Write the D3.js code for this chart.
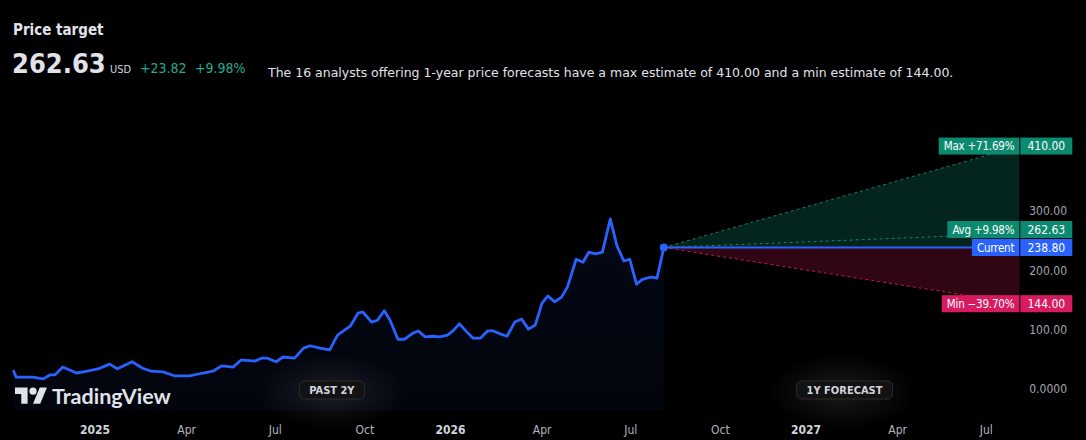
<!DOCTYPE html>
<html>
<head>
<meta charset="utf-8">
<script src="https://cdn.jsdelivr.net/npm/d3@7"></script>
<style>
  html, body { margin: 0; padding: 0; background: #000; }
  svg { display: block; font-family: "DejaVu Sans Condensed", "DejaVu Sans", sans-serif; }
</style>
</head>
<body>
<div id="chart"></div>
<script>
var priceDates = [
    "2024-10-09", "2024-10-12", "2024-10-29", "2024-11-09", "2024-11-16", "2024-11-21", "2024-11-29",
    "2024-12-06", "2024-12-13", "2024-12-20", "2024-12-29", "2025-01-06", "2025-01-16", "2025-01-24",
    "2025-02-08", "2025-02-19", "2025-02-28", "2025-03-12", "2025-03-24", "2025-04-08", "2025-04-22",
    "2025-05-02", "2025-05-11", "2025-05-23", "2025-05-31", "2025-06-14", "2025-06-21", "2025-06-27",
    "2025-07-06", "2025-07-13", "2025-07-25", "2025-08-03", "2025-08-10", "2025-08-20", "2025-08-30",
    "2025-09-07", "2025-09-20", "2025-09-28", "2025-10-03", "2025-10-12", "2025-10-18", "2025-10-25",
    "2025-10-31", "2025-11-08", "2025-11-15", "2025-11-23", "2025-11-29", "2025-12-06", "2025-12-14",
    "2025-12-21", "2025-12-29", "2026-01-04", "2026-01-10", "2026-01-18", "2026-01-24", "2026-02-01",
    "2026-02-08", "2026-02-14", "2026-02-21", "2026-02-28", "2026-03-08", "2026-03-15", "2026-03-22",
    "2026-03-29", "2026-04-05", "2026-04-11", "2026-04-18", "2026-04-25", "2026-05-01", "2026-05-10",
    "2026-05-17", "2026-05-23", "2026-05-30", "2026-06-06", "2026-06-14", "2026-06-21", "2026-06-28",
    "2026-07-04", "2026-07-11", "2026-07-17", "2026-07-26", "2026-08-01", "2026-08-08"
];
var priceValues = [
    32, 20, 20, 17, 24, 24, 37,
    32, 27, 29, 32, 35, 42, 34,
    46, 35, 30, 29, 22, 22, 27,
    30, 39, 37, 49, 47, 52, 52,
    46, 54, 52, 69, 73, 69, 66,
    91, 106, 128, 130, 113, 116, 132,
    116, 84, 84, 94, 98, 88, 89,
    88, 91, 99, 110, 96, 86, 86,
    98, 98, 93, 89, 113, 118, 101,
    108, 145, 157, 147, 155, 172, 219,
    214, 231, 228, 231, 287, 241, 216,
    219, 177, 185, 189, 187, 238.8
];

var forecastEndDate = "2027-08-08";
var currentPrice = 238.80;
var targetNames = ["Max", "Avg", "Min"];
var targetValues = [410.00, 262.63, 144.00];
var targetPercents = ["+71.69%", "+9.98%", "\u221239.70%"];
var avgChange = "+23.82";

// 400.00 sits under the 410.00 box in the reference, so it is left out
var yTickValues = [0, 100, 200, 300];
var yTickLabels = ["0.0000", "100.00", "200.00", "300.00"];
var xTickDates = ["2025-01-01", "2025-04-01", "2025-07-01", "2025-10-01", "2026-01-01", "2026-04-01",
    "2026-07-01", "2026-10-01", "2027-01-01", "2027-04-01", "2027-07-01"];
var xTickLabels = ["2025", "Apr", "Jul", "Oct", "2026", "Apr", "Jul", "Oct", "2027", "Apr", "Jul"];

var width = 1086, height = 440;
var lineBlue = "#2962ff";
var green = "#0b8a70";
var pink = "#d81b60";

var svg = d3.select("#chart").append("svg")
    .attr("width", width)
    .attr("height", height);

svg.append("rect").attr("width", width).attr("height", height).attr("fill", "#000");

var defs = svg.append("defs");
var areaGrad = defs.append("linearGradient")
    .attr("id", "areaGrad").attr("x1", 0).attr("y1", 0).attr("x2", 0).attr("y2", 1);
areaGrad.append("stop").attr("offset", "0%").attr("stop-color", lineBlue).attr("stop-opacity", 0.08);
areaGrad.append("stop").attr("offset", "100%").attr("stop-color", lineBlue).attr("stop-opacity", 0.05);

var glow = defs.append("radialGradient").attr("id", "glow");
glow.append("stop").attr("offset", "0%").attr("stop-color", "#fff").attr("stop-opacity", 0.1);
glow.append("stop").attr("offset", "100%").attr("stop-color", "#fff").attr("stop-opacity", 0);

var parse = d3.utcParse("%Y-%m-%d");
var dataset = priceDates.map(function (d, i) {
    return { date: parse(d), value: priceValues[i] };
});

var x = d3.scaleUtc()
    .domain([parse("2025-01-01"), parse("2027-01-01")])
    .range([95, 806]);

var y = d3.scaleLinear()
    .domain([0, 400])
    .range([389, 152]);

// header
svg.append("text").attr("x", 13).attr("y", 35)
    .attr("fill", "#e0e3eb").attr("font-size", 15).attr("font-weight", "bold")
    .text("Price target");
svg.append("text").attr("x", 12).attr("y", 73)
    .attr("fill", "#e0e3eb").attr("font-size", 27).attr("font-weight", "bold")
    .text(targetValues[1].toFixed(2));
svg.append("text").attr("x", 110).attr("y", 73)
    .attr("fill", "#d1d4dc").attr("font-size", 11)
    .text("USD");
svg.append("text").attr("x", 140).attr("y", 73)
    .attr("fill", "#22ab94").attr("font-size", 14)
    .text(avgChange);
svg.append("text").attr("x", 195).attr("y", 73)
    .attr("fill", "#22ab94").attr("font-size", 14)
    .text(targetPercents[1]);
svg.append("text").attr("x", 268).attr("y", 77)
    .attr("fill", "#e0e3eb").attr("font-size", 12.5)
    .attr("font-family", "'DejaVu Sans', sans-serif")
    .text("The 16 analysts offering 1-year price forecasts have a max estimate of " +
        targetValues[0].toFixed(2) + " and a min estimate of " + targetValues[2].toFixed(2) + ".");

// glow behind the period pills
var lastDate = dataset[dataset.length - 1].date;
var endDate = parse(forecastEndDate);
var pastMid = (0 + x(lastDate)) / 2;
var futureMid = (x(lastDate) + x(endDate)) / 2;
[pastMid, futureMid].forEach(function (cx) {
    svg.append("ellipse").attr("cx", cx).attr("cy", 392).attr("rx", 75).attr("ry", 38)
        .attr("fill", "url(#glow)");
});

// area under price line
svg.append("path")
    .datum(dataset)
    .attr("fill", "url(#areaGrad)")
    .attr("d", d3.area()
        .x(d => x(d.date))
        .y0(410)
        .y1(d => y(d.value)));

// forecast cone
var x0 = x(lastDate), x1 = x(endDate), yc = y(currentPrice);
svg.append("path")
    .attr("fill", "#0b8a70").attr("fill-opacity", 0.27)
    .attr("d", d3.line()([[x0, yc], [x1, y(targetValues[0])], [x1, yc]]));
svg.append("path")
    .attr("fill", "#b0174f").attr("fill-opacity", 0.27)
    .attr("d", d3.line()([[x0, yc], [x1, yc], [x1, y(targetValues[2])]]));

targetValues.forEach(function (v, i) {
    svg.append("line")
        .attr("x1", x0).attr("y1", yc).attr("x2", x1).attr("y2", y(v))
        .attr("stroke", i === 2 ? "#c2185b" : "#13806a")
        .attr("stroke-width", 1)
        .attr("stroke-dasharray", "3,3");
});

svg.append("line")
    .attr("x1", x0).attr("y1", yc).attr("x2", x1).attr("y2", yc)
    .attr("stroke", lineBlue).attr("stroke-width", 2);

svg.append("path")
    .datum(dataset)
    .attr("fill", "none")
    .attr("stroke", lineBlue)
    .attr("stroke-width", 2.8)
    .attr("stroke-linejoin", "round")
    .attr("d", d3.line()
        .x(d => x(d.date))
        .y(d => y(d.value)));

svg.append("circle").attr("cx", x0).attr("cy", yc).attr("r", 4).attr("fill", lineBlue);

// y axis tick labels
var yAxis = svg.append("g")
    .attr("transform", "translate(1067,0)")
    .attr("font-size", 12);
yTickValues.forEach(function (v, i) {
    yAxis.append("text")
        .attr("x", 0).attr("y", y(v)).attr("dy", "0.35em")
        .attr("text-anchor", "end")
        .attr("fill", "#a3a6af")
        .text(yTickLabels[i]);
});

// x axis tick labels
xTickDates.forEach(function (d, i) {
    var isYear = /^\d{4}$/.test(xTickLabels[i]);
    svg.append("text")
        .attr("x", x(parse(d)) + (isYear ? 0 : 4))
        .attr("y", 430).attr("dy", "0.35em")
        .attr("text-anchor", "middle")
        .attr("font-size", 12)
        .attr("font-weight", isYear ? "bold" : "normal")
        .attr("fill", isYear ? "#d1d4dc" : "#b2b5be")
        .text(xTickLabels[i]);
});

// right side price labels
var boxH = 17;
var labels = [
    { name: targetNames[0] + " " + targetPercents[0], value: targetValues[0], color: green },
    { name: targetNames[1] + " " + targetPercents[1], value: targetValues[1], color: green },
    { name: "Current", value: currentPrice, color: lineBlue },
    { name: targetNames[2] + " " + targetPercents[2], value: targetValues[2], color: pink }
];
labels.forEach(function (d) { d.cy = y(d.value); });
// push labels apart so they don't overlap (upper one moves up)
for (var k = labels.length - 2; k >= 0; k--) {
    if (labels[k + 1].cy - labels[k].cy < boxH + 1) {
        labels[k].cy = labels[k + 1].cy - boxH - 1;
    }
}

labels.forEach(function (d) {
    var g = svg.append("g");
    var t = g.append("text")
        .attr("x", x1 - 5).attr("y", d.cy).attr("dy", "0.36em")
        .attr("text-anchor", "end")
        .attr("font-size", 11.5)
        .attr("letter-spacing", -0.2)
        .attr("fill", "#fff")
        .text(d.name);
    var w = t.node().getComputedTextLength();
    g.insert("rect", "text")
        .attr("x", x1 - w - 10).attr("y", d.cy - boxH / 2)
        .attr("width", w + 10).attr("height", boxH)
        .attr("fill", d.color);
    g.append("rect")
        .attr("x", x1 + 1).attr("y", d.cy - boxH / 2)
        .attr("width", 52).attr("height", boxH)
        .attr("fill", d.color);
    g.append("text")
        .attr("x", x1 + 27).attr("y", d.cy).attr("dy", "0.36em")
        .attr("text-anchor", "middle")
        .attr("font-size", 12)
        .attr("fill", "#fff")
        .text(d.value.toFixed(2));
});

// period pills
function addPill(cx, label) {
    var g = svg.append("g");
    var t = g.append("text")
        .attr("x", cx).attr("y", 390).attr("dy", "0.36em")
        .attr("text-anchor", "middle")
        .attr("font-size", 11).attr("font-weight", "bold")
        .attr("fill", "#d1d4dc")
        .text(label);
    var w = t.node().getComputedTextLength() + 20;
    g.insert("rect", "text")
        .attr("x", cx - w / 2).attr("y", 381)
        .attr("width", w).attr("height", 18)
        .attr("rx", 5)
        .attr("fill", "#121212")
        .attr("stroke", "#2a2a2a");
}
addPill(pastMid, "PAST 2Y");
addPill(futureMid + 3, "1Y FORECAST");

// TradingView logo
var logo = svg.append("g").attr("transform", "translate(15,384) scale(0.9)");
logo.append("path").attr("fill", "#e0e3eb")
    .attr("d", "M14 22H7V11H0V4h14v18zM28 22h-8l7.5-18h8L28 22z");
logo.append("circle").attr("cx", 20).attr("cy", 8).attr("r", 4).attr("fill", "#e0e3eb");
svg.append("text").attr("x", 52).attr("y", 404)
    .attr("fill", "#e0e3eb").attr("font-size", 21.5).attr("font-weight", "bold")
    .attr("font-family", "Lato, sans-serif")
    .text("TradingView");
</script>
</body>
</html>
